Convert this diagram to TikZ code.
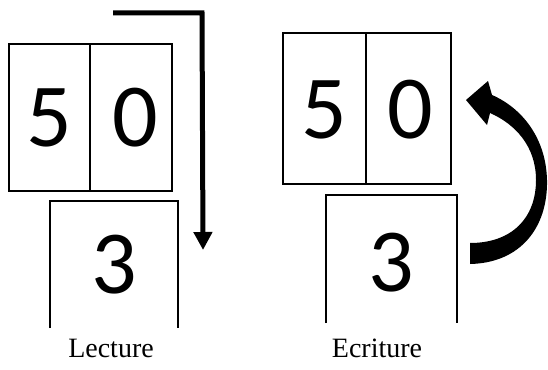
\documentclass[tikz,border=0pt]{standalone}
\usepackage{fontspec}
\setmainfont{Liberation Serif}
\newfontfamily\digitfont{Carlito}
\usetikzlibrary{arrows.meta}
\begin{document}
\begin{tikzpicture}[x=1pt,y=-1pt,
  cell/.style={draw=black,line width=1.2pt,inner sep=0pt},
  digit/.style={font=\digitfont\fontsize{90}{90}\selectfont,inner sep=0pt},
  caption/.style={font=\fontsize{28}{28}\selectfont,inner sep=0pt},
  openbox/.style={draw=black,line width=1.2pt},
  bentarrow/.style={line width=5pt,-{Triangle[length=18pt,width=18pt]}}]
\useasboundingbox (0,0) rectangle (548,369);
% ---------- Lecture ----------
\draw[cell] (9,44) rectangle (90,191);
\draw[cell] (90,44) rectangle (172,191);
\node[digit] (l5) at (49,118) {5};
\node[digit] (l0) at (135,118) {0};
\draw[openbox] (50,328) -- (50,201) -- (178,201) -- (178,328);
\node[digit] (l3) at (114,265) {3};
\coordinate (ls) at (113,13);
\coordinate (lc) at (202,13);
\coordinate (le) at (203,250);
\draw[bentarrow] (ls) -- (lc) -- (le);
\node[caption] (lecture) at (111,348) {Lecture};
% ---------- Ecriture ----------
\draw[cell] (283,33) rectangle (366,184);
\draw[cell] (366,33) rectangle (451,184);
\node[digit] (r5) at (324,110) {5};
\node[digit] (r0) at (410,110) {0};
\draw[openbox] (326,323) -- (326,195) -- (457,195) -- (457,323);
\node[digit] (r3) at (391,263) {3};
\fill[black] (470,264) .. controls (520,263) and (548,228) .. (547,180)
  .. controls (546,138) and (522,108) .. (492,95) -- (488,81) -- (466,100)
  -- (487,125) -- (490,113) .. controls (515,124) and (536,146) .. (536,180)
  .. controls (536,218) and (512,243) .. (470,243) -- cycle;
\node[caption] (ecriture) at (377,348) {Ecriture};
\end{tikzpicture}
\end{document}
